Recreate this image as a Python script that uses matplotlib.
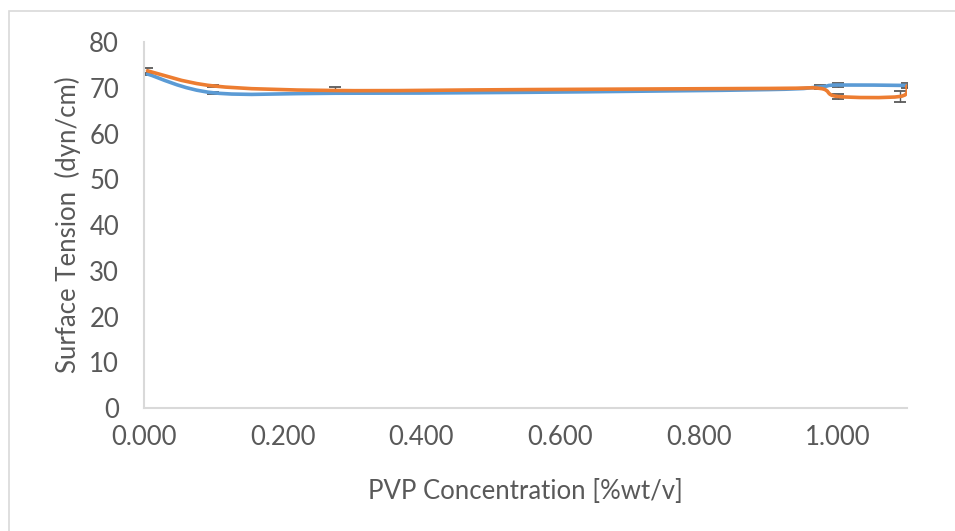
import numpy as np
import matplotlib
matplotlib.use('Agg')
import matplotlib.pyplot as plt
from matplotlib.path import Path
from matplotlib.patches import PathPatch, Rectangle

plt.rcParams['font.family'] = ['Lato', 'DejaVu Sans']

# valeurs
conc_blue = [0.005, 0.1, 0.275, 0.55, 0.9, 0.975, 1.0, 1.1]
tension_blue = [73.0, 68.9, 68.8, 69.0, 69.6, 70.2, 70.6, 70.5]
err_blue = [0.2, 0.2, 0.2, 0.2, 0.2, 0.4, 0.5, 0.5]

conc_orange = [0.005, 0.1, 0.275, 0.55, 0.9, 0.975, 1.0, 1.09, 1.1]
tension_orange = [73.7, 70.4, 69.4, 69.6, 69.85, 69.85, 68.1, 68.1, 70.4]
err_orange = [0.6, 0.2, 0.7, 0.2, 0.2, 0.2, 0.6, 1.2, 0.3]

y_ticks = [0, 10, 20, 30, 40, 50, 60, 70, 80]
x_ticks = [0.0, 0.2, 0.4, 0.6, 0.8, 1.0]

BLUE = '#5B9BD5'
ORANGE = '#ED7D31'
GREY_TXT = '#595959'
GREY_AX = '#D9D9D9'


def smooth_path(xs, ys):
    # courbe lissée type Excel (Catmull-Rom -> Bezier)
    pts = np.column_stack([xs, ys]).astype(float)
    p = np.vstack([pts[0], pts, pts[-1]])
    verts = [pts[0]]
    codes = [Path.MOVETO]
    for i in range(1, len(p) - 2):
        c1 = p[i] + (p[i + 1] - p[i - 1]) / 6
        c2 = p[i + 1] - (p[i + 2] - p[i]) / 6
        verts += [c1, c2, p[i + 1]]
        codes += [Path.CURVE4] * 3
    return Path(verts, codes)


fig = plt.figure(figsize=(9.55, 5.31), dpi=100)
ax = fig.add_axes([0.1508, 0.2316, 0.7989, 0.6893])

# cadre du graphique
fig.patches.append(Rectangle((9 / 955, -0.1), 1.2, 1.1 - 11 / 531,
                             transform=fig.transFigure, fill=False,
                             edgecolor=GREY_AX, lw=1.2))

ax.errorbar(conc_blue, tension_blue, yerr=err_blue, fmt='none',
            ecolor=GREY_TXT, elinewidth=1, capsize=4.5, capthick=1.3, zorder=2)
ax.errorbar(conc_orange, tension_orange, yerr=err_orange, fmt='none',
            ecolor=GREY_TXT, elinewidth=1, capsize=4.5, capthick=1.3, zorder=2)

ax.add_patch(PathPatch(smooth_path(conc_blue, tension_blue), fill=False,
                       edgecolor=BLUE, lw=2.6, capstyle='round', zorder=3))
ax.add_patch(PathPatch(smooth_path(conc_orange, tension_orange), fill=False,
                       edgecolor=ORANGE, lw=2.6, capstyle='round', zorder=4))

ax.set_xlim(0, 1.1)
ax.set_ylim(0, 80)
ax.set_xticks(x_ticks)
ax.set_xticklabels(['{:.3f}'.format(v) for v in x_ticks])
ax.set_yticks(y_ticks)

for side in ['top', 'right']:
    ax.spines[side].set_visible(False)
for side in ['left', 'bottom']:
    ax.spines[side].set_color(GREY_AX)
    ax.spines[side].set_linewidth(1.5)

ax.tick_params(length=0, labelsize=18.5, labelcolor=GREY_TXT)
ax.tick_params(axis='x', pad=12)
ax.tick_params(axis='y', pad=18)

ax.set_xlabel('PVP Concentration [%wt/v]', fontsize=18.5, color=GREY_TXT, labelpad=21)
ax.set_ylabel('Surface Tension  (dyn/cm)', fontsize=18.5, color=GREY_TXT, labelpad=6)

fig.savefig('out.png', dpi=100)
